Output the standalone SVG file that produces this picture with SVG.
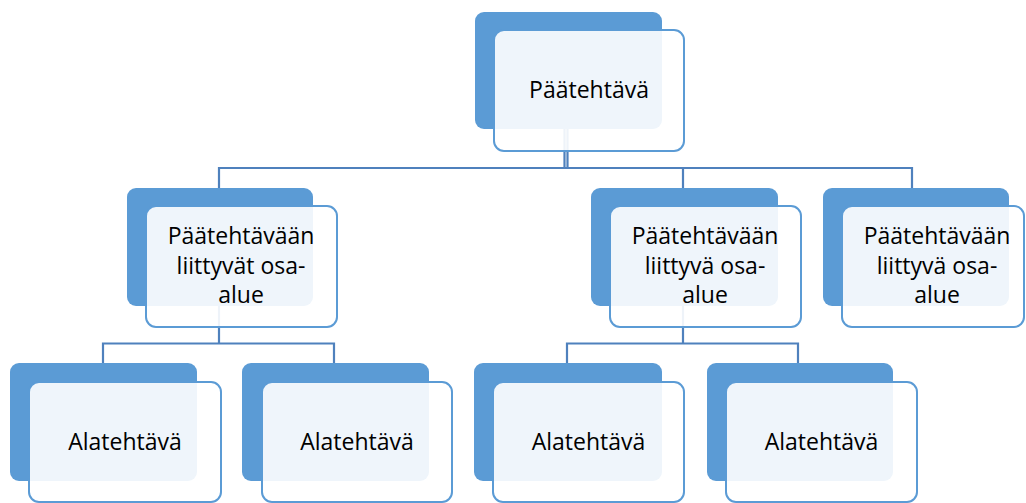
<svg xmlns="http://www.w3.org/2000/svg" width="1026" height="503" viewBox="0 0 1026 503">
  <style>
    .back { fill: #5B9BD5; }
    .front { fill: #FFFFFF; fill-opacity: 0.9; stroke: #5B9BD5; stroke-width: 2; }
    .lbl { font-family: "Open Sans", "Liberation Sans", sans-serif; font-size: 23px; fill: #000000; text-anchor: middle; }
    .conn { fill: none; stroke: #4F81BD; stroke-width: 2.2; }
  </style>
  <rect width="1026" height="503" fill="#FFFFFF"/>

  <!-- connectors (drawn first so the translucent front cards overlay them) -->
  <g id="connectors">
    <path class="conn" d="M564.5 129 V168 M567.5 129 V168"/>
    <path class="conn" d="M219 188 V168 H912 V188 M683 168 V188"/>
    <path class="conn" d="M219 306 V343.5 M103 363 V343.5 H334 V363"/>
    <path class="conn" d="M683 306 V343.5 M567 363 V343.5 H798 V363"/>
  </g>

  <g id="node-root">
    <rect class="back" x="475" y="12" width="187" height="117" rx="9"/>
    <rect class="front" x="494" y="30" width="190" height="121" rx="10"/>
    <text class="lbl" x="589" y="98">Päätehtävä</text>
  </g>

  <g id="node-area-1">
    <rect class="back" x="127" y="188" width="186" height="118" rx="9"/>
    <rect class="front" x="146" y="206" width="191" height="121" rx="10"/>
    <text class="lbl" x="241" y="244">Päätehtävään</text>
    <text class="lbl" x="241" y="274">liittyvät osa-</text>
    <text class="lbl" x="241" y="303">alue</text>
  </g>

  <g id="node-area-2">
    <rect class="back" x="591" y="188" width="187" height="118" rx="9"/>
    <rect class="front" x="610" y="206" width="191" height="121" rx="10"/>
    <text class="lbl" x="705" y="244">Päätehtävään</text>
    <text class="lbl" x="705" y="274">liittyvä osa-</text>
    <text class="lbl" x="705" y="303">alue</text>
  </g>

  <g id="node-area-3">
    <rect class="back" x="823" y="188" width="186" height="118" rx="9"/>
    <rect class="front" x="842" y="206" width="182" height="121" rx="10"/>
    <text class="lbl" x="937" y="244">Päätehtävään</text>
    <text class="lbl" x="937" y="274">liittyvä osa-</text>
    <text class="lbl" x="937" y="303">alue</text>
  </g>

  <g id="node-task-1">
    <rect class="back" x="10" y="363" width="187" height="118" rx="9"/>
    <rect class="front" x="29" y="382" width="192" height="120" rx="10"/>
    <text class="lbl" x="125" y="450">Alatehtävä</text>
  </g>

  <g id="node-task-2">
    <rect class="back" x="242" y="363" width="187" height="118" rx="9"/>
    <rect class="front" x="262" y="382" width="190" height="120" rx="10"/>
    <text class="lbl" x="357" y="450">Alatehtävä</text>
  </g>

  <g id="node-task-3">
    <rect class="back" x="474" y="363" width="188" height="118" rx="9"/>
    <rect class="front" x="493" y="382" width="191" height="120" rx="10"/>
    <text class="lbl" x="588.5" y="450">Alatehtävä</text>
  </g>

  <g id="node-task-4">
    <rect class="back" x="707" y="363" width="186" height="118" rx="9"/>
    <rect class="front" x="726" y="382" width="191" height="120" rx="10"/>
    <text class="lbl" x="821.5" y="450">Alatehtävä</text>
  </g>
</svg>
